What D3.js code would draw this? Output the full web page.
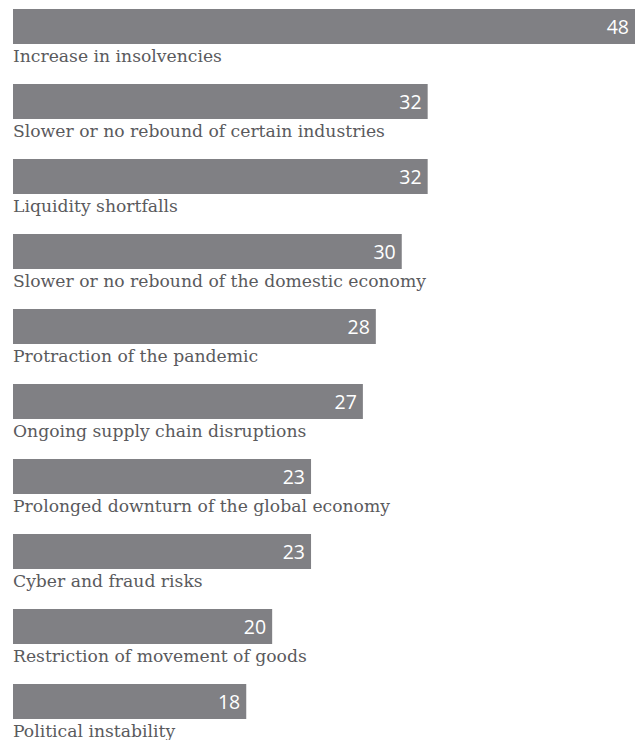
<!DOCTYPE html>
<html>
<head>
<meta charset="utf-8">
<script src="https://cdn.jsdelivr.net/npm/d3@7"></script>
<style>
  html, body { margin: 0; padding: 0; background: #ffffff; }
  svg { display: block; }
</style>
</head>
<body>
<svg id="chart" width="644" height="740"></svg>
<script>
// Share of respondents naming each risk
const categories = [
  "Increase in insolvencies",
  "Slower or no rebound of certain industries",
  "Liquidity shortfalls",
  "Slower or no rebound of the domestic economy",
  "Protraction of the pandemic",
  "Ongoing supply chain disruptions",
  "Prolonged downturn of the global economy",
  "Cyber and fraud risks",
  "Restriction of movement of goods",
  "Political instability"
];
const values = [48, 32, 32, 30, 28, 27, 23, 23, 20, 18];

const svg = d3.select("#chart");
const left = 13;
const barH = 35;
const step = 75;
const top0 = 9;

const x = d3.scaleLinear().domain([0, 48]).range([left, 635]);
const y = d3.scaleBand()
  .domain(categories)
  .range([top0, top0 + step * categories.length])
  .paddingInner(0).paddingOuter(0);

const rows = svg.selectAll("g.row")
  .data(categories.map((c, i) => ({ c, v: values[i] })))
  .join("g")
  .attr("class", "row")
  .attr("transform", d => `translate(0,${y(d.c)})`);

rows.append("rect")
  .attr("x", x(0))
  .attr("y", 0)
  .attr("width", d => x(d.v) - x(0))
  .attr("height", barH)
  .attr("fill", "#808084");

rows.append("text")
  .attr("x", d => x(d.v) - 6)
  .attr("y", 25)
  .attr("text-anchor", "end")
  .attr("fill", "#ffffff")
  .style("font-family", "'Open Sans', sans-serif")
  .style("font-size", "19.5px")
  .text(d => d.v);

rows.append("text")
  .attr("x", x(0))
  .attr("y", 53)
  .attr("fill", "#5a5a5d")
  .style("font-family", "'DejaVu Serif', serif")
  .style("font-size", "17.2px")
  .text(d => d.c);
</script>
</body>
</html>
